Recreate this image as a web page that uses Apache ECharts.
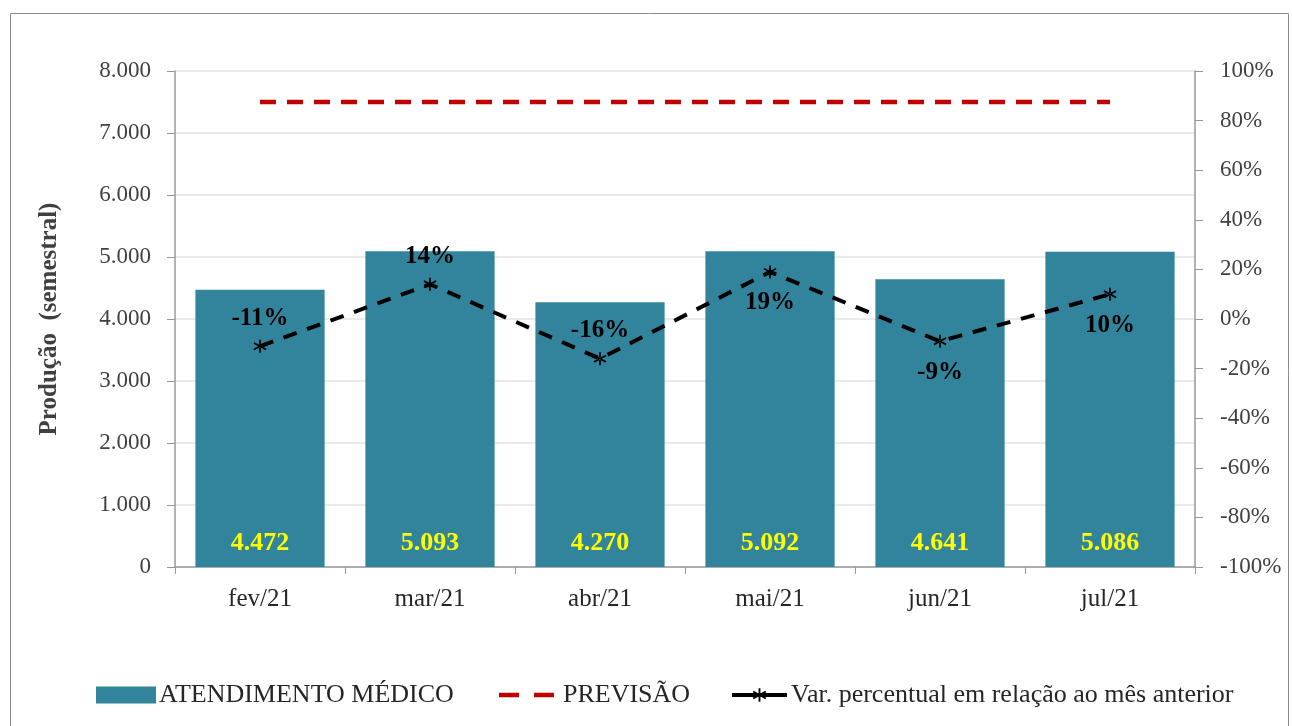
<!DOCTYPE html>
<html>
<head>
<meta charset="utf-8">
<script src="https://cdn.jsdelivr.net/npm/echarts@6/dist/echarts.min.js"></script>
<style>
  html, body { margin: 0; padding: 0; background: #fff; }
  #chart { width: 1292px; height: 726px; }
</style>
</head>
<body>
<div id="chart"></div>
<script>
// dados do gráfico
const meses = ['fev/21', 'mar/21', 'abr/21', 'mai/21', 'jun/21', 'jul/21']
const atendimento = [4472, 5093, 4270, 5092, 4641, 5086]
const previsao = [7500, 7500, 7500, 7500, 7500, 7500]
const variacao = [-11, 14, -16, 19, -9, 10]
// posição do rótulo de cada ponto da variação
const posRotulo = ['top', 'top', 'top', 'bottom', 'bottom', 'bottom']

const fonte = 'Liberation Serif, Times New Roman, serif'
const corEixo = '#404040'

// asterisco usado como marcador
const asterisco = 'path://M-1,-8 L1,-8 L1,8 L-1,8 Z ' +
  'M6.43,4.87 L7.43,3.13 L-6.43,-4.87 L-7.43,-3.13 Z ' +
  'M-7.43,3.13 L-6.43,4.87 L7.43,-3.13 L6.43,-4.87 Z'
// dois traços para a legenda da previsão
const doisTracos = 'path://M0,0 L20,0 L20,4.5 L0,4.5 Z M35,0 L55,0 L55,4.5 L35,4.5 Z'

function legendaTexto(esq) {
  return { fontFamily: fonte, fontSize: 26, color: '#262626', padding: [0, 0, 0, esq] }
}

const chart = echarts.init(document.getElementById('chart'))
chart.setOption({
  animation: false,
  textStyle: { fontFamily: fonte },
  graphic: [{
    type: 'rect',
    shape: { x: 10.5, y: 13.5, width: 1278, height: 740 },
    style: { fill: 'none', stroke: '#8c8c8c', lineWidth: 1 },
    silent: true
  }],
  grid: { left: 175, right: 97, top: 71, bottom: 159 },
  legend: [{
    left: 91,
    top: 677,
    itemWidth: 60,
    itemHeight: 17,
    textStyle: legendaTexto(-2),
    data: [{ name: 'ATENDIMENTO MÉDICO', icon: 'rect' }]
  }, {
    left: 494,
    top: 677,
    itemWidth: 55,
    itemHeight: 5,
    textStyle: legendaTexto(4),
    data: [{ name: 'PREVISÃO', icon: doisTracos }]
  }, {
    left: 725,
    top: 677,
    itemWidth: 55,
    itemHeight: 17,
    textStyle: legendaTexto(-1),
    data: [{ name: 'Var. percentual em relação ao mês anterior', lineStyle: { type: 'solid', width: 4 } }]
  }],
  xAxis: {
    type: 'category',
    data: meses,
    axisLine: { lineStyle: { color: '#999', width: 1.5 } },
    axisTick: { show: true, length: 7, lineStyle: { color: '#999' } },
    axisLabel: { fontFamily: fonte, fontSize: 25, color: '#262626', margin: 20 }
  },
  yAxis: [{
    type: 'value',
    min: 0,
    max: 8000,
    interval: 1000,
    name: 'Produção  (semestral)',
    nameLocation: 'middle',
    nameGap: 113,
    nameTextStyle: { fontFamily: fonte, fontSize: 25, fontWeight: 'bold', color: '#404040' },
    axisLine: { show: true, lineStyle: { color: '#999', width: 1.5 } },
    axisTick: { show: true, length: 8, lineStyle: { color: '#999' } },
    axisLabel: {
      fontFamily: fonte, fontSize: 23, color: corEixo, margin: 24,
      formatter: v => v === 0 ? '0' : (v / 1000) + '.000'
    },
    splitLine: { lineStyle: { color: '#e3e3e3', width: 1.5 } }
  }, {
    type: 'value',
    min: -100,
    max: 100,
    interval: 20,
    position: 'right',
    axisLine: { show: true, lineStyle: { color: '#999', width: 1.5 } },
    axisTick: { show: true, length: 8, lineStyle: { color: '#999' } },
    axisLabel: { fontFamily: fonte, fontSize: 23, color: corEixo, margin: 25, formatter: v => v + '%' },
    splitLine: { show: false }
  }],
  series: [{
    name: 'ATENDIMENTO MÉDICO',
    type: 'bar',
    data: atendimento,
    barWidth: '76%',
    itemStyle: { color: '#31849b' },
    label: {
      show: true,
      position: 'insideBottom',
      distance: 11,
      fontFamily: fonte,
      fontSize: 26,
      fontWeight: 'bold',
      color: '#ffff00',
      formatter: p => String(p.value).replace(/(\d)(\d{3})$/, '$1.$2')
    }
  }, {
    name: 'PREVISÃO',
    type: 'line',
    data: previsao,
    symbol: 'none',
    lineStyle: { color: '#c00000', width: 4.5, type: [16, 11] },
    itemStyle: { color: '#c00000' }
  }, {
    name: 'Var. percentual em relação ao mês anterior',
    type: 'line',
    yAxisIndex: 1,
    data: variacao.map((v, i) => ({
      value: v,
      label: { position: posRotulo[i], distance: posRotulo[i] === 'top' ? 9 : 12 }
    })),
    symbol: asterisco,
    symbolSize: 13,
    itemStyle: { color: '#000' },
    lineStyle: { color: '#000', width: 4, type: [14, 11] },
    label: {
      show: true,
      fontFamily: fonte,
      fontSize: 25,
      fontWeight: 'bold',
      color: '#000',
      formatter: p => p.value + '%'
    }
  }]
})
</script>
</body>
</html>
